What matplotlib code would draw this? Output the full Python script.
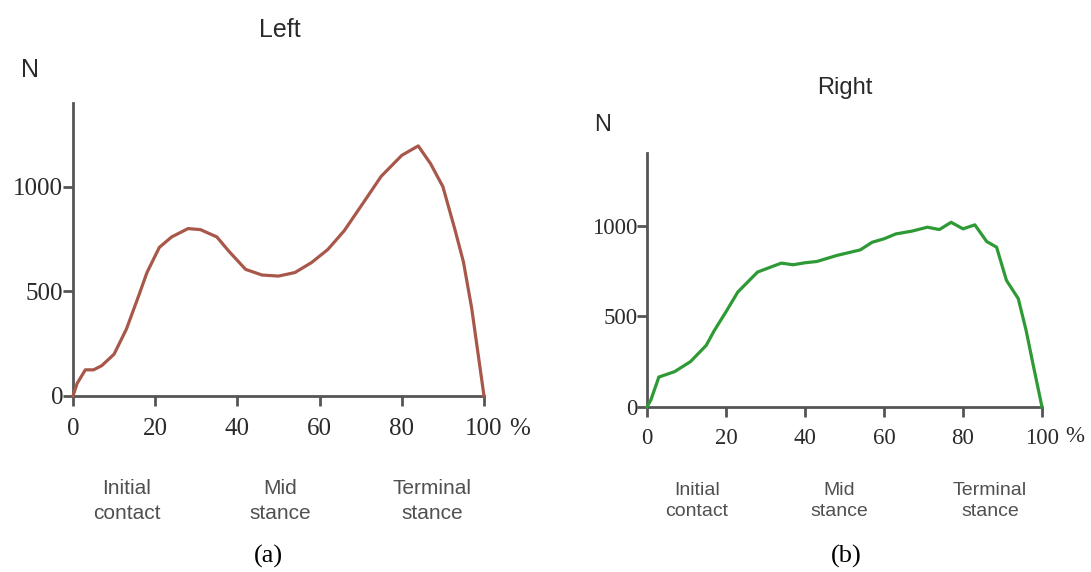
import matplotlib.pyplot as plt

# dados: forca vertical (N) ao longo do apoio (%)
left_pct = [0, 1, 3, 5, 7, 10, 13, 16, 18, 21, 24, 28, 31, 35, 38, 42, 46, 50,
            54, 58, 62, 66, 70, 75, 80, 84, 87, 90, 93, 95, 97, 100]
left_force = [0, 60, 125, 125, 145, 200, 320, 480, 590, 710, 760, 800, 795, 760,
              690, 605, 578, 573, 590, 637, 700, 790, 905, 1050, 1150, 1195, 1110,
              1000, 790, 640, 420, 0]

right_pct = [0, 1, 3, 7, 11, 15, 17, 20, 23, 28, 34, 37, 40, 43, 48, 54, 57, 60,
             63, 67, 71, 74, 77, 80, 83, 86, 88.5, 91, 94, 96, 97.5, 100]
right_force = [0, 40, 165, 195, 250, 340, 420, 525, 634, 744, 793, 784, 795, 802,
               835, 866, 908, 927, 954, 969, 991, 978, 1018, 982, 1004, 912, 881,
               698, 597, 420, 260, 0]

x_ticks = [0, 20, 40, 60, 80, 100]
y_ticks = [0, 500, 1000]
phases = ['Initial\ncontact', 'Mid\nstance', 'Terminal\nstance']

W, H = 1091, 572
fig = plt.figure(figsize=(W / 100, H / 100), dpi=100)
axis_color = '#555555'
text_color = '#2a2a2a'


def px(x, y):
    # pixel da imagem -> coordenadas da figura
    return x / W, 1 - y / H


def make_panel(rect, xs, ys, color, tick_size, xpad, title, title_size,
               title_xy, n_xy, n_size, pct_xy, phase_xy, phase_size,
               phase_gap, cap, cap_xy):
    ax = fig.add_axes(rect)
    ax.plot(xs, ys, color=color, lw=2.3, clip_on=False, zorder=3,
            solid_joinstyle='round')
    ax.set_xlim(0, 100)
    ax.set_ylim(0, 1400)
    for s in ['top', 'right']:
        ax.spines[s].set_visible(False)
    for s in ['left', 'bottom']:
        ax.spines[s].set_color(axis_color)
        ax.spines[s].set_linewidth(2.0)
    ax.set_xticks(x_ticks)
    ax.set_yticks(y_ticks)
    ax.tick_params(axis='x', direction='out', length=7, width=2,
                   color=axis_color, pad=xpad, labelsize=tick_size,
                   labelcolor=text_color)
    ax.tick_params(axis='y', direction='out', length=7, width=2,
                   color=axis_color, pad=0, labelsize=tick_size,
                   labelcolor=text_color)
    for lab in ax.get_xticklabels() + ax.get_yticklabels():
        lab.set_family('Liberation Serif')
    fig.text(*px(*title_xy), title, ha='center', va='center',
             family='Liberation Sans', fontsize=title_size, color=text_color)
    fig.text(*px(*n_xy), 'N', ha='center', va='center',
             family='Liberation Sans', fontsize=n_size, color=text_color)
    fig.text(*px(*pct_xy), '%', ha='center', va='center',
             family='Liberation Serif', fontsize=tick_size, color=text_color)
    for (x, y), lab in zip(phase_xy, phases):
        fig.text(*px(x, y), lab, ha='center', va='center',
                 family='Liberation Sans', fontsize=phase_size,
                 color='#505050', linespacing=phase_gap)
    fig.text(*px(*cap_xy), cap, ha='center', va='center',
             family='Liberation Serif', fontsize=19, color='black')
    return ax


# painel (a)
make_panel([73 / W, 1 - 396 / H, 411 / W, 293 / H], left_pct, left_force,
           '#a8584a', 18, 9, 'Left', 18, (280, 30), (30, 70), 18, (520, 429),
           [(127, 501), (280, 501), (432, 501)], 15, 1.4,
           '(a)', (268, 556))

# painel (b)
make_panel([647 / W, 1 - 407 / H, 395 / W, 254 / H], right_pct, right_force,
           '#2e9a35', 16.5, 8, 'Right', 17, (845, 88), (603, 125), 17,
           (1075, 437), [(697, 501), (839, 501), (990, 501)], 14, 1.3,
           '(b)', (846, 556))

plt.savefig('out.png', dpi=100)
